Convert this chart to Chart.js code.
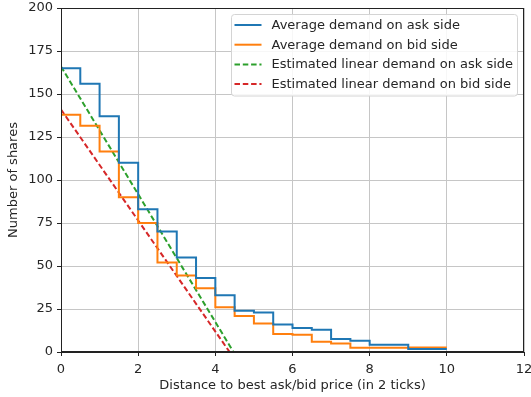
<!DOCTYPE html>
<html>
<head>
<meta charset="utf-8">
<script src="https://cdn.jsdelivr.net/npm/chart.js@4"></script>
<style>
  html, body { margin: 0; padding: 0; background: #fff; }
  #wrap { width: 531px; height: 397px; }
</style>
</head>
<body>
<div id="wrap"><canvas id="demand" width="531" height="397"></canvas></div>
<script>
// price distance grid (in units of 2 ticks), one step every half unit
const distances = [0, 0.5, 1, 1.5, 2, 2.5, 3, 3.5, 4, 4.5, 5, 5.5, 6, 6.5, 7, 7.5, 8, 8.5, 9, 9.5, 10];
// average shares queued at each distance (last value repeats to close the final step)
const askDemand = [165, 156, 137, 110, 83, 70, 55, 43, 33, 24, 23, 16, 14, 13, 7.5, 6.5, 4.2, 4.2, 1.8, 1.8, 1.8];
const bidDemand = [138, 131.5, 116.5, 90, 75, 52, 44.5, 37, 26, 21, 16.5, 10.5, 10, 6, 5, 2.4, 2.4, 2.4, 2.6, 2.6, 2.6];
// fitted linear demand: intercept at 0 and zero crossing
const askFitX = [0, 4.47];
const askFitY = [166, 0];
const bidFitX = [0, 4.37];
const bidFitY = [141, 0];

const xTicks = [0, 2, 4, 6, 8, 10, 12];
const yTicks = [0, 25, 50, 75, 100, 125, 150, 175, 200];

const font = { family: 'DejaVu Sans', size: 13 };
const textColor = '#262626';
const pts = (xs, ys) => xs.map((x, i) => ({ x: x, y: ys[i] }));

// matplotlib-style frame and legend box inside the plot
const framePlugin = {
  id: 'frame',
  afterDatasetsDraw(chart) {
    const { ctx, chartArea: a } = chart;
    ctx.save();
    ctx.strokeStyle = '#222';
    ctx.lineWidth = 1;
    ctx.strokeRect(a.left + 0.5, a.top + 0.5, a.right - a.left - 1, a.bottom - a.top - 1);
    ctx.restore();
  },
  afterDraw(chart) {
    const { ctx, chartArea: a } = chart;
    const ds = chart.data.datasets;
    const boxR = a.right - 6.5, boxL = 231.5, boxT = 14.5, boxB = 96;
    ctx.save();
    ctx.beginPath();
    ctx.roundRect(boxL, boxT, boxR - boxL, boxB - boxT, 3);
    ctx.fillStyle = 'rgba(255,255,255,0.85)';
    ctx.fill();
    ctx.strokeStyle = '#d4d4d4';
    ctx.lineWidth = 1;
    ctx.stroke();
    ds.forEach((d, i) => {
      const y = 25 + i * 19.7;
      ctx.beginPath();
      ctx.setLineDash(d.borderDash || []);
      ctx.strokeStyle = d.borderColor;
      ctx.lineWidth = d.borderWidth;
      ctx.moveTo(boxL + 3, y);
      ctx.lineTo(boxL + 30, y);
      ctx.stroke();
      ctx.setLineDash([]);
      ctx.fillStyle = textColor;
      ctx.font = '13px "DejaVu Sans"';
      ctx.textBaseline = 'middle';
      ctx.fillText(d.label, boxL + 40, y + 0.5);
    });
    ctx.restore();
  }
};

new Chart(document.getElementById('demand'), {
  type: 'line',
  data: {
    datasets: [
      {
        label: 'Average demand on ask side',
        data: pts(distances, askDemand),
        stepped: true,
        borderColor: '#1f77b4',
        borderWidth: 2,
        pointRadius: 0,
        fill: false
      },
      {
        label: 'Average demand on bid side',
        data: pts(distances, bidDemand),
        stepped: true,
        borderColor: '#ff7f0e',
        borderWidth: 2,
        pointRadius: 0,
        fill: false
      },
      {
        label: 'Estimated linear demand on ask side',
        data: pts(askFitX, askFitY),
        borderColor: '#2ca02c',
        borderWidth: 2,
        borderDash: [5.5, 2.8],
        pointRadius: 0,
        fill: false
      },
      {
        label: 'Estimated linear demand on bid side',
        data: pts(bidFitX, bidFitY),
        borderColor: '#d62728',
        borderWidth: 2,
        borderDash: [5.5, 2.8],
        pointRadius: 0,
        fill: false
      }
    ]
  },
  options: {
    responsive: false,
    animation: false,
    layout: { padding: { top: 8, right: 7, left: 0, bottom: 0 } },
    plugins: {
      legend: { display: false },
      tooltip: { enabled: false }
    },
    scales: {
      x: {
        type: 'linear',
        min: 0,
        max: 12,
        afterBuildTicks: (s) => { s.ticks = xTicks.map(v => ({ value: v })); },
        afterFit: (s) => { s.height = 45; s.paddingLeft = 0; s.paddingRight = 0; },
        grid: { color: '#c6c6c6', lineWidth: 1, tickLength: 4, tickColor: '#222' },
        border: { color: '#222', width: 1 },
        ticks: { color: textColor, font: font, padding: 6, maxRotation: 0 },
        title: {
          display: true,
          text: 'Distance to best ask/bid price (in 2 ticks)',
          color: textColor,
          font: font,
          padding: { top: 1, bottom: 4 }
        }
      },
      y: {
        min: 0,
        max: 200,
        afterBuildTicks: (s) => { s.ticks = yTicks.map(v => ({ value: v })); },
        afterFit: (s) => { s.width = 61; s.paddingTop = 0; s.paddingBottom = 0; },
        grid: { color: '#c6c6c6', lineWidth: 1, tickLength: 4, tickColor: '#222' },
        border: { color: '#222', width: 1 },
        ticks: { color: textColor, font: font, padding: 4 },
        title: {
          display: true,
          text: 'Number of shares',
          color: textColor,
          font: font,
          padding: { top: 6, bottom: 0 }
        }
      }
    }
  },
  plugins: [framePlugin]
});
</script>
</body>
</html>
